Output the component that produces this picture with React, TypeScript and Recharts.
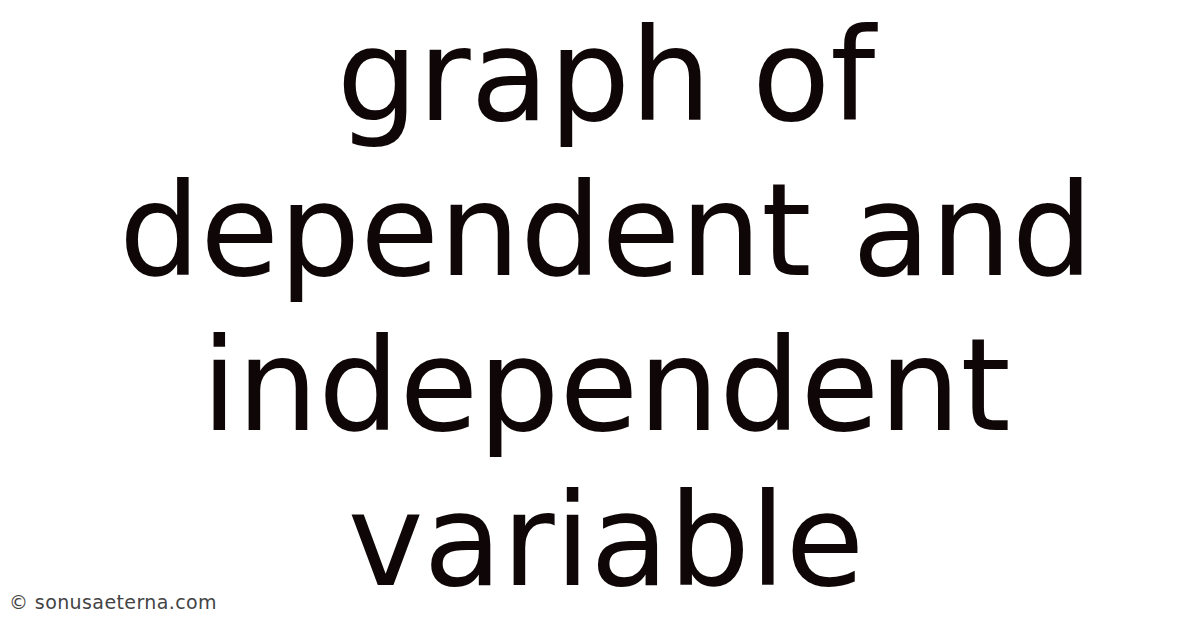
import { Scatter, ScatterChart, XAxis, YAxis } from "recharts";

// one entry per line of the title
const lines = ["graph of", "dependent and", "independent", "variable"];
const rows = [0, 1, 2, 3];
const column = [0.5, 0.5, 0.5, 0.5];
const credit = "© sonusaeterna.com";

const TEXT_COLOR = "#0f0707";

const data = lines.map((text, i) => ({ x: column[i], y: rows[i], text }));

function WordLine(props: any) {
  const { cx, cy, payload } = props;
  return (
    <text
      x={cx}
      y={cy}
      textAnchor="middle"
      fill={TEXT_COLOR}
      fontSize={128}
      fontFamily="DejaVu Sans"
    >
      {payload.text}
    </text>
  );
}

export default function App() {
  return (
    <div
      style={{
        position: "absolute",
        left: 0,
        top: 0,
        width: 1200,
        height: 628,
        background: "#fff",
        overflow: "hidden",
      }}
    >
      <ScatterChart
        width={1200}
        height={628}
        margin={{ top: 120, right: 0, bottom: 43, left: 12 }}
      >
        <XAxis type="number" dataKey="x" domain={[0, 1]} hide />
        <YAxis type="number" dataKey="y" domain={[0, 3]} reversed hide />
        <Scatter data={data} shape={WordLine} isAnimationActive={false} />
      </ScatterChart>
      <div
        style={{
          position: "absolute",
          left: 9,
          top: 591,
          fontFamily: "DejaVu Sans",
          fontSize: 19,
          letterSpacing: 0.4,
          color: "#444",
          whiteSpace: "nowrap",
        }}
      >
        {credit}
      </div>
    </div>
  );
}
